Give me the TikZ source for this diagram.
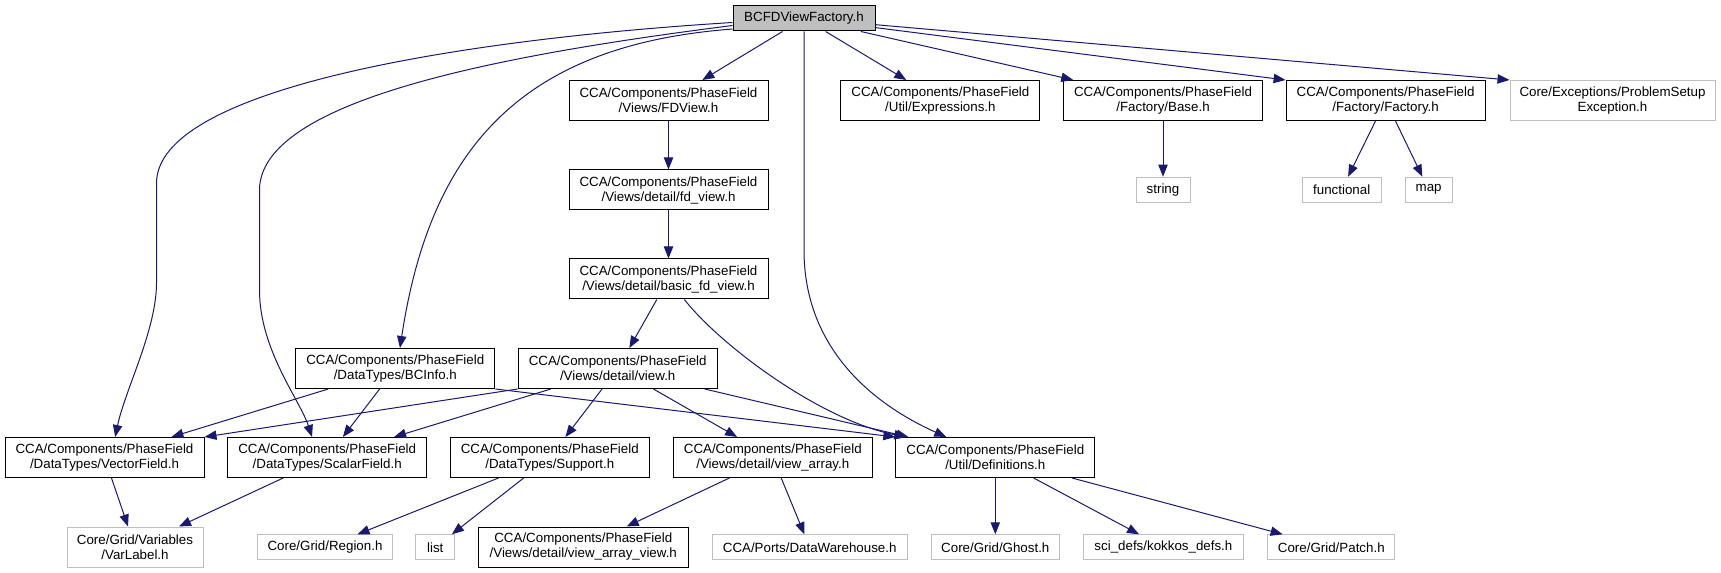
\documentclass[tikz,border=0pt]{standalone}
\usepackage{fontspec}
\setmainfont{Liberation Sans}
\usepackage{tikz}
\usetikzlibrary{arrows.meta}
\definecolor{edgeblue}{RGB}{25,25,112}
\definecolor{lightframe}{RGB}{191,191,191}
\definecolor{rootfill}{RGB}{191,191,191}

\begin{document}
\begin{tikzpicture}[
  x=0.75pt, y=-0.75pt,
  file/.style={rectangle, draw=black, fill=white, line width=0.75pt, inner sep=0pt,
               minimum width=149.25pt, minimum height=30pt, align=center,
               font=\fontsize{10}{11.25}\selectfont},
  sysfile/.style={file, draw=lightframe, minimum height=18.75pt},
  rootfile/.style={file, fill=rootfill, minimum height=18.75pt},
  arrow/.style={-{Triangle[length=9pt,width=7pt]}, line width=0.75pt, color=edgeblue}
]
  \useasboundingbox (0,0) rectangle (1721,573);

  \node[rootfile, minimum width=106.5pt] (root) at (804,18.5) {BCFDViewFactory.h};
  \node[file] (fdview) at (668.5,100.5) {CCA/Components/PhaseField\\/Views/FDView.h};
  \node[file] (fdv) at (668.5,190) {CCA/Components/PhaseField\\/Views/detail/fd\_view.h};
  \node[file] (basic) at (668.5,279) {CCA/Components/PhaseField\\/Views/detail/basic\_fd\_view.h};
  \node[file] (expr) at (940.4,100.5) {CCA/Components/PhaseField\\/Util/Expressions.h};
  \node[file] (base) at (1163,100.5) {CCA/Components/PhaseField\\/Factory/Base.h};
  \node[file] (factory) at (1385.6,100.5) {CCA/Components/PhaseField\\/Factory/Factory.h};
  \node[sysfile, minimum width=153.75pt, minimum height=30pt] (ps) at (1612.5,100.5) {Core/Exceptions/ProblemSetup\\Exception.h};
  \node[sysfile, minimum width=40.5pt] (str) at (1163,189.7) {string};
  \node[sysfile, minimum width=59.25pt] (func) at (1341.7,189.7) {functional};
  \node[sysfile, minimum width=35.25pt] (map) at (1428.6,189.7) {map};
  \node[file] (bcinfo) at (395.3,368.5) {CCA/Components/PhaseField\\/DataTypes/BCInfo.h};
  \node[file] (view) at (617.7,368.5) {CCA/Components/PhaseField\\/Views/detail/view.h};
  \node[file] (vector) at (104.5,457.5) {CCA/Components/PhaseField\\/DataTypes/VectorField.h};
  \node[file] (scalar) at (327.2,457.5) {CCA/Components/PhaseField\\/DataTypes/ScalarField.h};
  \node[file] (support) at (549.8,457.5) {CCA/Components/PhaseField\\/DataTypes/Support.h};
  \node[file] (varray) at (772.8,457.5) {CCA/Components/PhaseField\\/Views/detail/view\_array.h};
  \node[file] (defs) at (995.3,457.5) {CCA/Components/PhaseField\\/Util/Definitions.h};
  \node[sysfile, minimum width=102pt, minimum height=30pt] (varlabel) at (135,547) {Core/Grid/Variables\\/VarLabel.h};
  \node[sysfile, minimum width=101.25pt] (region) at (325,547.3) {Core/Grid/Region.h};
  \node[sysfile, minimum width=29.25pt] (list) at (435.3,547.3) {list};
  \node[file, minimum width=157.5pt] (vav) at (583.3,547) {CCA/Components/PhaseField\\/Views/detail/view\_array\_view.h};
  \node[sysfile, minimum width=146.25pt] (dw) at (809.7,547.3) {CCA/Ports/DataWarehouse.h};
  \node[sysfile, minimum width=96pt] (ghost) at (995.3,547.3) {Core/Grid/Ghost.h};
  \node[sysfile, minimum width=120pt] (kokkos) at (1163.4,547.3) {sci\_defs/kokkos\_defs.h};
  \node[sysfile, minimum width=95.25pt] (patch) at (1331.3,547.3) {Core/Grid/Patch.h};

  \draw[arrow] ([yshift=-3pt]root.west) .. controls (450,40) and (157,90) .. (156.5,183)
    -- (156.5,283) .. controls (156.5,330) and (125,390) .. ([xshift=8pt]vector.north);
  \draw[arrow] ([yshift=-5.25pt]root.west) .. controls (500,55) and (260,100) .. (259.5,190)
    -- (259.5,290) .. controls (259.5,350) and (300,400) .. ([xshift=-11.4pt]scalar.north);
  \draw[arrow] ([yshift=-7.9pt]root.west) .. controls (520,45) and (430,150) .. ([xshift=3.5pt]bcinfo.north);
  \draw[arrow] (root) -- (fdview);
  \draw[arrow] (root) -- (expr);
  \draw[arrow] (root) -- (base);
  \draw[arrow] (root) -- (factory.north west);
  \draw[arrow] (root) -- (ps.north west);
  \draw[arrow] (root.south) -- (804,250) .. controls (804,350) and (875,405) .. ([xshift=-36.75pt]defs.north);
  \draw[arrow] (fdview) -- (fdv);
  \draw[arrow] (fdv) -- (basic);
  \draw[arrow] (basic) -- (view);
  \draw[arrow] ([xshift=11.9pt]basic.south) .. controls (720,345) and (820,420) .. ([xshift=-66.75pt]defs.north);
  \draw[arrow] (bcinfo) -- (vector);
  \draw[arrow] (bcinfo) -- (scalar);
  \draw[arrow] (bcinfo.south east) -- (defs.north west);
  \draw[arrow] (view.south west) -- (vector.north east);
  \draw[arrow] (view) -- (scalar);
  \draw[arrow] (view) -- (support);
  \draw[arrow] (view) -- (varray);
  \draw[arrow] (view) -- (defs);
  \draw[arrow] (vector) -- (varlabel);
  \draw[arrow] (scalar) -- (varlabel);
  \draw[arrow] (support) -- (region);
  \draw[arrow] (support) -- (list);
  \draw[arrow] (varray) -- (vav);
  \draw[arrow] (varray) -- (dw);
  \draw[arrow] (defs) -- (ghost);
  \draw[arrow] (defs) -- (kokkos);
  \draw[arrow] (defs) -- (patch);
  \draw[arrow] (factory) -- (func);
  \draw[arrow] (factory) -- (map);
  \draw[arrow] (base) -- (str);
\end{tikzpicture}
\end{document}
